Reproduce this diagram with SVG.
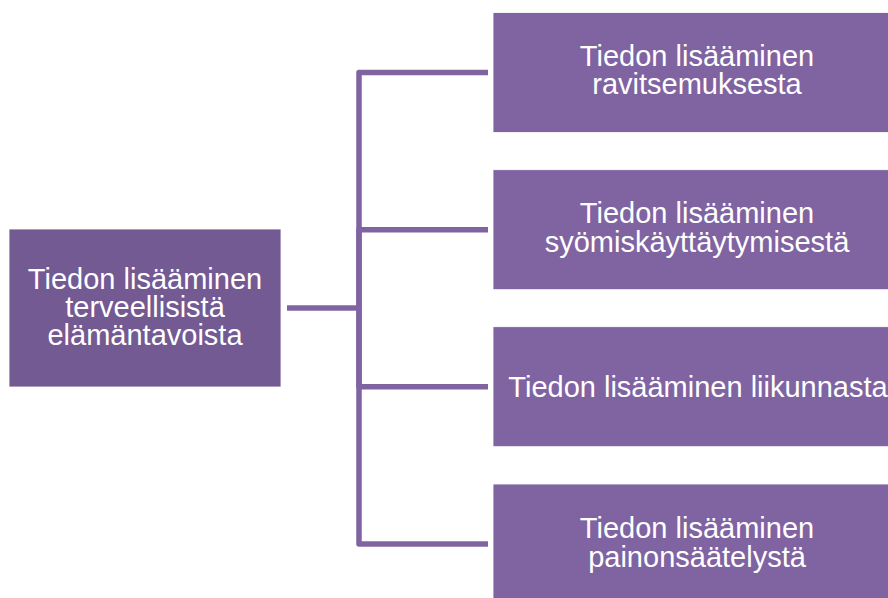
<svg xmlns="http://www.w3.org/2000/svg" width="888" height="598" viewBox="0 0 888 598">
  <style>
    .box { fill: #8064a2; stroke: #ffffff; stroke-width: 0.8; }
    .root { fill: #735a93; }
    .label { font-family: "Liberation Sans", Arial, sans-serif; font-size: 29px; fill: #ffffff; text-anchor: middle; }
    .link { fill: none; stroke: #8064a2; stroke-width: 5.5; stroke-linejoin: round; }
  </style>
  <rect width="888" height="598" fill="#ffffff"/>

  <!-- connectors: parent stub, trunk and one branch per child -->
  <g id="connectors">
    <path class="link" d="M287,308 H359"/>
    <path class="link" d="M359,308 V72.5 H488"/>
    <path class="link" d="M359,308 V229.7 H488"/>
    <path class="link" d="M359,308 V386.7 H488"/>
    <path class="link" d="M359,308 V544 H488"/>
  </g>

  <g id="node-root">
    <rect class="box root" x="9" y="229" width="272" height="158"/>
    <text class="label" x="145" y="289">Tiedon lisääminen</text>
    <text class="label" x="145" y="317">terveellisistä</text>
    <text class="label" x="145" y="345">elämäntavoista</text>
  </g>

  <g id="node-ravitsemus">
    <rect class="box" x="493" y="12.5" width="410" height="120"/>
    <text class="label" x="697" y="65.5">Tiedon lisääminen</text>
    <text class="label" x="697" y="94">ravitsemuksesta</text>
  </g>

  <g id="node-syominen">
    <rect class="box" x="493" y="169.7" width="410" height="120"/>
    <text class="label" x="697" y="223">Tiedon lisääminen</text>
    <text class="label" x="697" y="251.5">syömiskäyttäytymisestä</text>
  </g>

  <g id="node-liikunta">
    <rect class="box" x="493" y="326.7" width="410" height="120"/>
    <text class="label" x="698" y="396.5">Tiedon lisääminen liikunnasta</text>
  </g>

  <g id="node-paino">
    <rect class="box" x="493" y="484" width="410" height="120"/>
    <text class="label" x="697" y="538">Tiedon lisääminen</text>
    <text class="label" x="697" y="566.5">painonsäätelystä</text>
  </g>
</svg>
